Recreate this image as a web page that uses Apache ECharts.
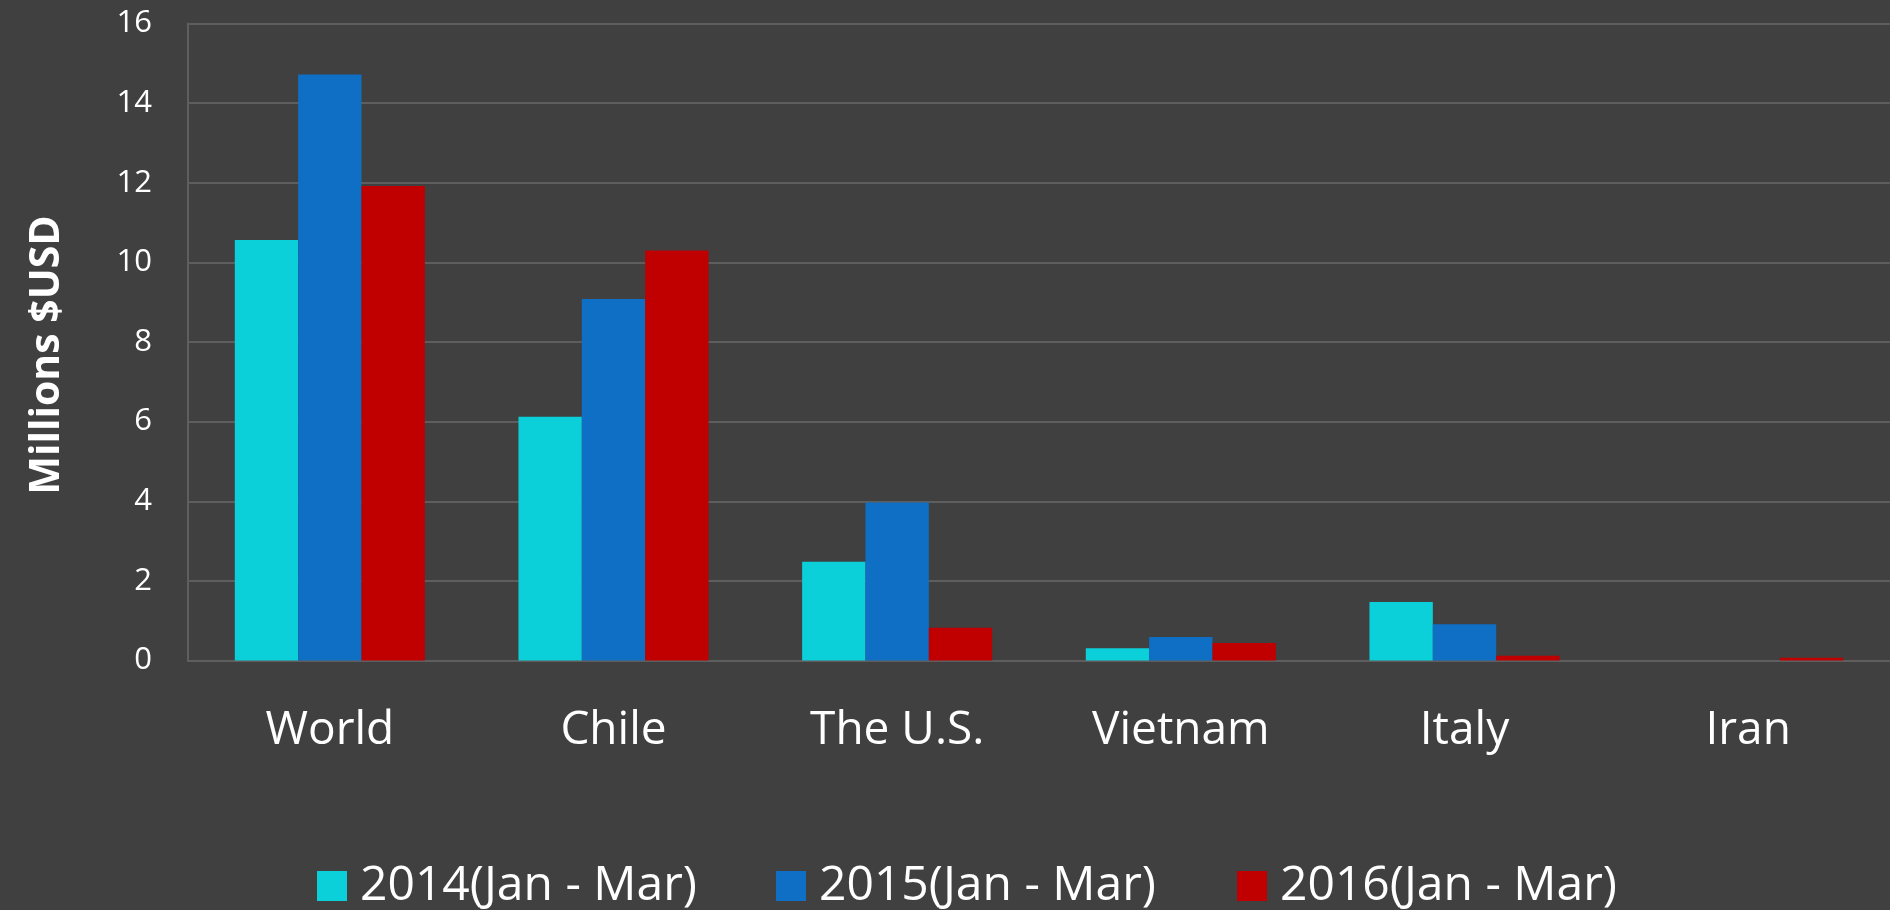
<!DOCTYPE html>
<html>
<head>
<meta charset="utf-8">
<script src="https://cdn.jsdelivr.net/npm/echarts@6/dist/echarts.min.js"></script>
<style>
html,body{margin:0;padding:0;background:#404040;}
#chart{width:1890px;height:910px;}
</style>
</head>
<body>
<div id="chart"></div>
<script>
const categories = ['World', 'Chile', 'The U.S.', 'Vietnam', 'Italy', 'Iran'];
const seriesNames = ['2014(Jan - Mar)', '2015(Jan - Mar)', '2016(Jan - Mar)'];
const values2014 = [10.56, 6.12, 2.48, 0.31, 1.47, 0];
const values2015 = [14.72, 9.08, 3.97, 0.59, 0.91, 0];
const values2016 = [11.92, 10.30, 0.82, 0.44, 0.12, 0.07];
const yTicks = [0, 2, 4, 6, 8, 10, 12, 14, 16];
const yAxisTitle = 'Millions $USD';

const colors = ['#0BD0D9', '#0E6FC5', '#C00000'];
const seriesValues = [values2014, values2015, values2016];
const legendLefts = [317, 776, 1237];

const chart = echarts.init(document.getElementById('chart'));
chart.setOption({
  backgroundColor: '#404040',
  animation: false,
  textStyle: { fontFamily: 'Open Sans' },
  grid: { left: 188, right: 0, top: 23.5, bottom: 249.5, containLabel: false },
  legend: seriesNames.map((n, i) => ({
    data: [n],
    left: legendLefts[i],
    top: 862,
    padding: 0,
    itemWidth: 30,
    itemHeight: 30,
    icon: 'rect',
    textStyle: { color: '#ffffff', fontSize: 48, fontFamily: 'Open Sans', lineHeight: 48, padding: [0, 0, 0, 8] }
  })),
  xAxis: {
    type: 'category',
    data: categories,
    axisLine: { show: true, lineStyle: { color: '#5e5e5e', width: 2 } },
    axisTick: { show: false },
    axisLabel: { color: '#ffffff', fontSize: 46, lineHeight: 46, margin: 47, fontFamily: 'Open Sans' },
    splitLine: { show: false }
  },
  yAxis: {
    type: 'value',
    min: yTicks[0],
    max: yTicks[yTicks.length - 1],
    interval: yTicks[1] - yTicks[0],
    name: yAxisTitle,
    nameLocation: 'middle',
    nameGap: 120,
    nameRotate: 90,
    nameTextStyle: { color: '#ffffff', fontSize: 41, fontWeight: 'bold', fontFamily: 'Open Sans', padding: [0, 0, 0, -26] },
    axisLine: { show: true, lineStyle: { color: '#5e5e5e', width: 2 } },
    axisTick: { show: false },
    axisLabel: { color: '#ffffff', fontSize: 31, margin: 36, fontFamily: 'Open Sans' },
    splitLine: { show: true, lineStyle: { color: '#5e5e5e', width: 2 } }
  },
  series: seriesNames.map((n, i) => ({
    name: n,
    type: 'bar',
    data: seriesValues[i],
    barGap: '0%',
    barCategoryGap: '33%',
    itemStyle: { color: colors[i] }
  }))
});
</script>
</body>
</html>
